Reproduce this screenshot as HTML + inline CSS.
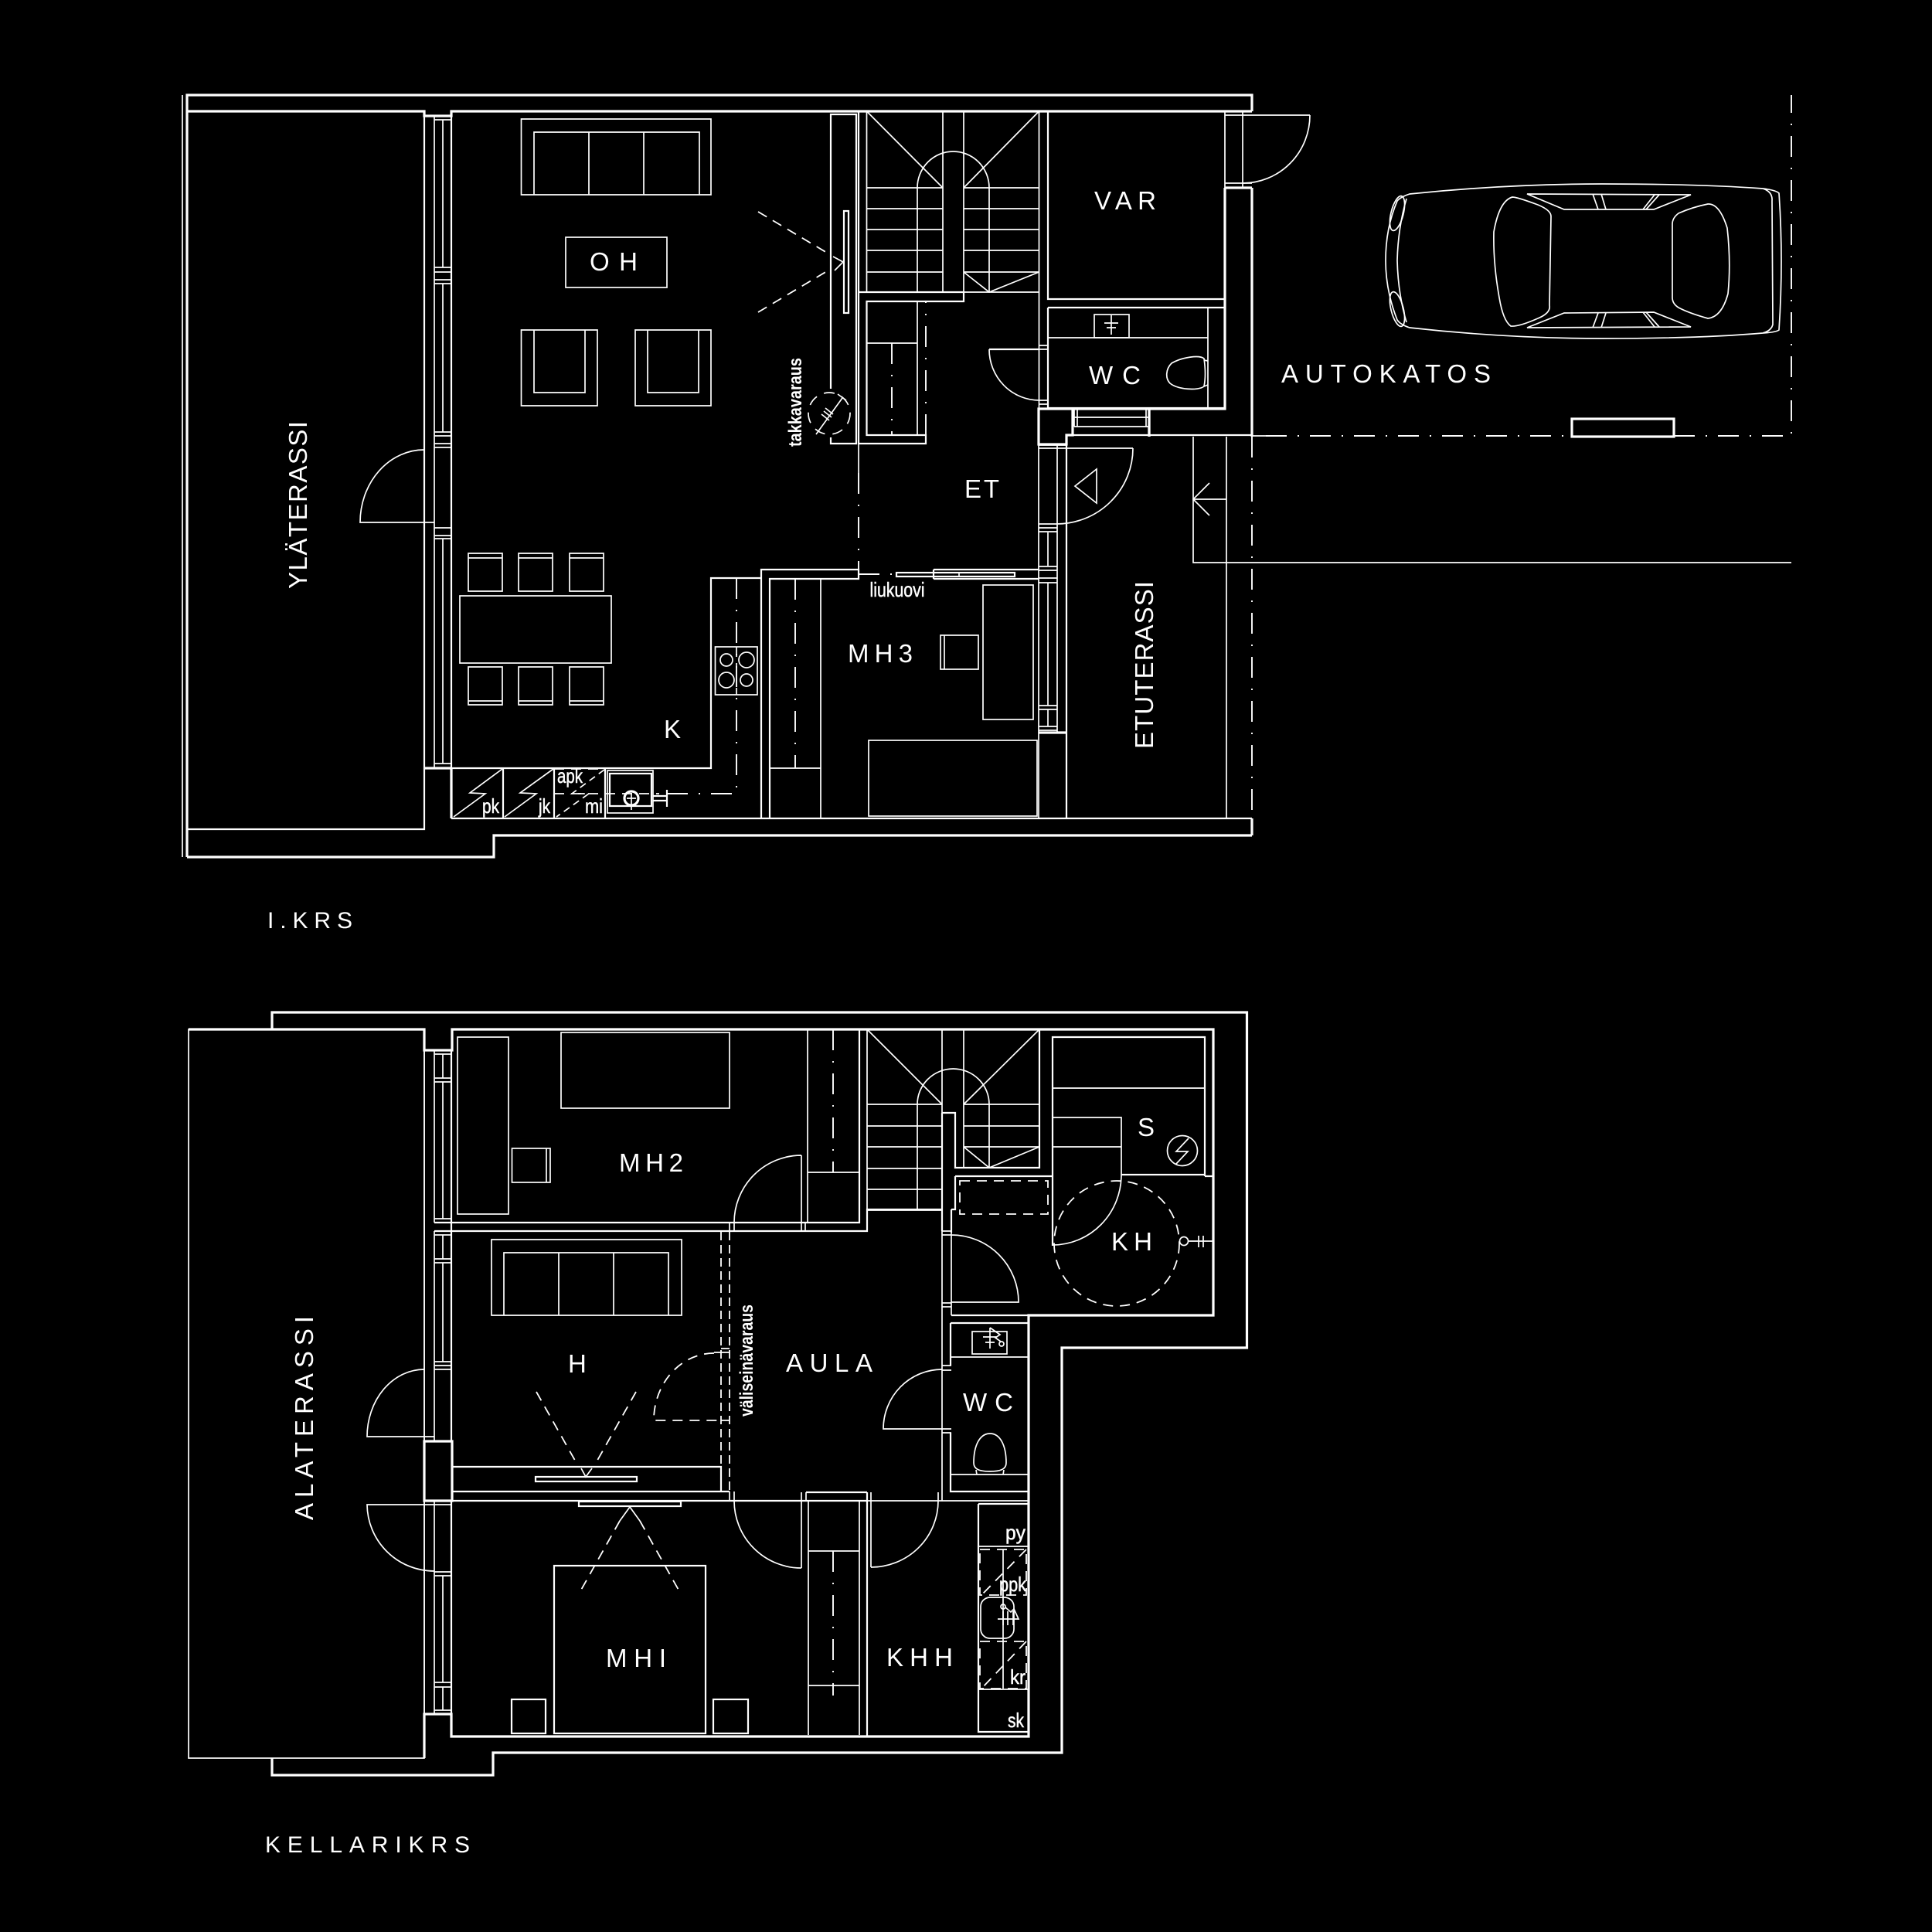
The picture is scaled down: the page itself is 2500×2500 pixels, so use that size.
<!DOCTYPE html>
<html><head><meta charset="utf-8"><style>
html,body{margin:0;padding:0;background:#000}
svg{display:block}
.t{stroke-width:1.7}.m{stroke-width:2.2}.k{stroke-width:3.2}
.dd{stroke-dasharray:27 14 2 14;stroke-width:1.9}
.d{stroke-dasharray:13 9;stroke-width:1.8}
.dl{stroke-dasharray:13 9;stroke-width:1.8}
.dv{stroke-dasharray:11 6;stroke-width:1.8}
text{fill:#fff;stroke:none;font-family:"Liberation Sans",sans-serif}
.c{font-size:33px}
.s{font-size:26px;stroke:#fff;stroke-width:.5px}
.r{font-size:24px;font-weight:bold}
</style></head><body>
<svg xmlns="http://www.w3.org/2000/svg" width="2500" height="2500" viewBox="0 0 2500 2500">
<rect width="2500" height="2500" fill="#000"/>
<g fill="none" stroke="#fff" class="t">

<!-- UPPER FLOOR: outer -->
<path class="k" d="M242,1109V123H1620V144M242,144H549V150H584V144H1620M242,1109H639V1081H1620"/>
<path class="t" d="M236,123V1109"/>
<path class="m" d="M242,1073H549V994H584M549,150V994M584,150V994"/>
<path class="t" d="M562,150V994M573,155V346M573,367V559M573,697V988"/>
<path class="t" d="M562,155H584M562,346H584M562,352H584M562,362H584M562,367H584M562,559H584M562,564H584M562,574H584M562,579H584M562,683H584M562,693H584M562,697H584M562,988H584"/>
<path class="k" d="M549,994H584"/>
<!-- yläterassi door -->
<path class="t" d="M549,582A83,94 0 0 0 466,676H562"/>
<!-- sofa & OH -->
<path d="M674.5,252V154H920V252ZM691,252V171H905V252M762,171V252M833,171V252"/>
<rect x="732" y="307" width="131" height="65"/>
<path d="M674.5,427H773V525H674.5ZM691,427V508H757V427M822,427H920V525H822ZM838,427V508H904V427"/>
<!-- dining -->
<rect x="595" y="771" width="196" height="87"/>
<path d="M606,716H650V765H606ZM606,722H650M671,716H715V765H671ZM671,722H715M737,716H781V765H737ZM737,722H781M606,863H650V912H606ZM606,907H650M671,863H715V912H671ZM671,907H715M737,863H781V912H737ZM737,907H781"/>
<!-- kitchen -->
<path class="m" d="M584,994H920V748H985M985,1059V737H1111V749H996V1059M584,1059H1620"/>
<path class="k" d="M584,994V1059"/>
<path class="dd" d="M953,748V1027H853"/>
<rect x="925.5" y="837" width="54.5" height="62"/>
<path d="M953,837V850M953,890V899M953,858V864"/>
<circle cx="940" cy="854" r="8"/><circle cx="966" cy="854" r="10"/><circle cx="940" cy="880" r="10"/><circle cx="966" cy="880" r="8"/>
<path class="m" d="M651,995V1059M717,995V1059M783,995V1059"/>
<path class="t" d="M650,995L608,1026L628,1027L587,1057M716,995L673,1026L694,1027L653,1057"/>
<path class="t" stroke-dasharray="9 6" d="M782,996L740,1027L762,1027L720,1057"/>
<path class="d" d="M717,995H783M717,1027H853M717,995V1059"/>
<rect x="786" y="997" width="59" height="55"/><rect x="789" y="1001" width="54" height="42" class="m"/>
<circle cx="817" cy="1033" r="9" class="k"/>
<path class="m" d="M845,1030H863M845,1036H863M863,1022V1044"/>
<path d="M811,1033H823M817,1026V1048"/>
<text class="s" x="624" y="1052" textLength="22" lengthAdjust="spacingAndGlyphs">pk</text>
<text class="s" x="697" y="1052" textLength="15" lengthAdjust="spacingAndGlyphs">jk</text>
<text class="s" x="721" y="1013" textLength="33" lengthAdjust="spacingAndGlyphs">apk</text>
<text class="s" x="757" y="1052" textLength="23" lengthAdjust="spacingAndGlyphs">mi</text>

<!-- fireplace panel -->
<path class="m" d="M1075,503V148H1108V574H1075V566"/>
<rect x="1092" y="273" width="6" height="132" class="m"/>
<path class="dl" d="M981,274L1075,330M981,404L1075,348"/>
<path d="M1078,332L1091,339L1080,350"/>
<circle cx="1073" cy="535" r="27" stroke-dasharray="14 10"/>
<path d="M1090,515L1056,562M1084,510L1095,518M1068,528L1078,536M1066,532L1076,540M1063,536L1073,544"/>
<text class="r" transform="translate(1037,578) rotate(-90)" textLength="115" lengthAdjust="spacingAndGlyphs">takkavaraus</text>

<!-- stairs upper -->
<path class="m" d="M1111,144V378H1247V390H1121.5V563H1198V574H1111V378"/>
<path class="dd" d="M1198,563V390"/>
<path class="dd" d="M1111,612V737"/>
<path class="t" d="M1111,574V612"/>
<path d="M1121.5,144V378M1187,243V378M1220,144V378M1247,144V378M1280,243V378M1344.5,144V378"/>
<path d="M1121.5,243H1220M1247,243H1344.5M1121.5,270H1220M1247,270H1344.5M1121.5,297H1220M1247,297H1344.5M1121.5,324H1220M1247,324H1344.5M1121.5,352H1220M1247,352H1344.5M1247,378H1344.5"/>
<path d="M1187,243A46.5,47 0 0 1 1280,243"/>
<path d="M1121.5,144L1220,243M1344.5,144L1247,243M1247,352L1280,378L1344.5,352"/>
<!-- closet at stairs -->
<path d="M1187,390V563M1121.5,444H1187"/>
<path class="dd" d="M1154,444V563"/>

<!-- VAR, WC -->
<path class="m" d="M1356,144V387H1585M1356,398H1585M1356,398V528H1585"/>
<path class="k" d="M1585,243V529H1487V565M1620,243V565M1585,243H1620"/>
<path class="t" d="M1344.5,378V530M1563,398V529M1356,437H1563"/>
<rect x="1416" y="407" width="45" height="30"/>
<path d="M1438,408V433M1429,418H1447M1432,424H1444"/>
<path d="M1558,464C1552,459 1530,462 1516,470C1508,478 1508,490 1514,496C1524,504 1550,506 1558,500C1560,490 1560,478 1558,464ZM1558,466L1563,467M1558,500L1563,498"/>
<path d="M1345,447H1356M1345,452H1356M1345,518H1356M1345,523H1356"/>
<path class="m" d="M1345,452H1280"/>
<path d="M1280,452A65,66 0 0 0 1345,518"/>
<!-- outer door -->
<path d="M1585,144V243M1608,144V243M1585,149H1695M1585,237H1620"/>
<path d="M1695,149A87,88 0 0 1 1608,237"/>
<!-- entry box -->
<path class="k" d="M1344,529H1388V563H1380V575H1344ZM1388,529H1487V565"/>
<path class="m" d="M1388,563H1620"/>
<path class="t" d="M1390,529V552M1394,529V552M1483,529V552M1390,540H1487M1390,552H1487"/>
<path class="t" d="M1620,564H1638"/>
<path class="dd" d="M1620,565V1059"/>
<path class="k" d="M1620,1059V1081"/>
<path class="dd" d="M1638,564H2034M2166,564H2318V123"/>
<rect x="2034" y="542" width="132" height="23" class="k"/>
<!-- door front -->
<path class="m" d="M1380,575V1059"/>
<path d="M1344,575V1059M1368,575V948M1344,576H1380M1344,580H1466M1466,580A99,98 0 0 1 1367,678M1344,678H1368M1344,683H1368M1344,688H1368M1356,689V732M1344,733H1368M1344,738H1368M1344,748H1368M1344,754H1368M1356,754V913M1344,913H1368M1344,918H1368M1356,918V940M1344,940H1368M1344,945H1368"/>
<path class="k" d="M1344,948H1380"/>
<path d="M1391,629L1419,607V651Z"/>
<!-- carport lines -->
<path d="M1587,565V1059M1544,565V728H2318M1544,646H1587M1565,625L1544,646L1565,667"/>
<!-- sliding door -->
<path class="m" d="M1208,737H1344M1208,749H1344M1208,737V749"/>
<rect x="1160" y="741" width="153" height="5" class="m"/>
<path d="M1241,741V746"/>
<path class="dd" d="M1111,743H1160"/>
<text class="s" x="1125.5" y="772" textLength="71" lengthAdjust="spacingAndGlyphs">liukuovi</text>
<!-- MH3 furniture -->
<rect x="1272" y="757" width="65" height="174"/>
<rect x="1217" y="822" width="49" height="44"/><path d="M1222,822V866"/>
<rect x="1124" y="958" width="218" height="98"/>
<path d="M1062,749V1059M996,994H1062"/>
<path class="dd" d="M1029,749V994"/>

<!-- car -->
<path d="M1824,251Q1950,238 2073,238Q2200,238 2281,244Q2298,246 2302,250Q2308,337 2302,427Q2298,430 2281,431Q2200,438 2073,438Q1950,438 1824,424Q1812,420 1808,414Q1793,376 1793,337Q1793,295 1808,260Q1812,255 1824,251ZM1820,257Q1809,295 1808,337Q1809,380 1820,417M2281,244Q2294,248 2293,260L2294,420Q2292,428 2281,431"/>
<ellipse cx="1808" cy="276" rx="8" ry="23" transform="rotate(14 1808 276)"/>
<ellipse cx="1808" cy="400" rx="8" ry="23" transform="rotate(-14 1808 400)"/>
<path d="M1957,255Q1963,255 1990,265Q2007,272 2007,280L2005,395Q2007,405 1990,412Q1965,423 1955,422Q1945,415 1940,385Q1932,340 1933,300Q1940,260 1957,255ZM2210,264Q2225,263 2235,295Q2240,340 2236,380Q2228,410 2210,412Q2185,405 2172,398Q2164,393 2164,385L2164,290Q2164,282 2172,276Q2190,268 2210,264Z"/>
<path d="M1976,251L2188,252L2140,271H2024ZM1976,424L2188,423L2140,404L2024,405Z"/>
<path d="M2061,251L2068,271M2072,251L2078,271M2141,252L2126,271M2147,252L2130,271M2068,405L2061,424M2078,405L2072,424M2126,404L2141,423M2130,404L2147,423"/>

<!-- LOWER FLOOR outer -->
<path class="k" d="M352,1331V1310H1613.5V1744H1374V2268H638V2297H352V2275"/>
<rect x="244" y="1332" width="305" height="943"/>
<path class="k" d="M549,2275V2218H584V2247H1331V1702H1570V1332H585V1359H549V1332H244"/>
<path class="k" d="M549,1865H585V1942H549Z"/>
<path class="m" d="M584,1359V1865M584,1942V2218"/>
<path class="t" d="M549,1359V1865M549,1942V2218M562,1360V1582M562,1593V1865M562,1942V2218"/>
<path class="t" d="M573,1364V1395M573,1400V1577M573,1598V1629M573,1634V1762M573,2039V2177M573,2183V2213"/>
<path class="t" d="M562,1364H584M562,1395H584M562,1400H584M562,1577H584M562,1598H584M562,1629H584M562,1634H584M562,1762H584M562,1767H584M562,1772H584M562,2034H584M562,2039H584M562,2177H584M562,2183H584M562,2213H584"/>
<path d="M549,1772A74,87 0 0 0 475,1859H562M549,1947H475A87,87 0 0 0 562,2033M549,1947H584"/>
<!-- MH2 -->
<rect x="592" y="1342" width="66" height="229"/>
<rect x="662.5" y="1486" width="49.5" height="44"/><path d="M707,1486V1530"/>
<rect x="726" y="1336" width="218" height="98"/>
<path class="m" d="M562,1582H1112V1332M562,1593H1122V1565H1219"/>
<path d="M1045,1332V1582M1045,1517H1112M1037,1495V1593M1042,1582V1593M944,1582V1593M950,1582V1593M1037,1495A87,87 0 0 0 950,1582"/>
<path class="dd" d="M1078,1332V1517"/>
<!-- H room -->
<path d="M636,1702V1604H882V1702ZM652,1702V1621H865V1702M723,1621V1702M794,1621V1702"/>
<path class="m" d="M585,1898H933V1930M585,1930H944M585,1942H1122"/>
<rect x="693" y="1911" width="131" height="6" class="m"/>
<path class="dl" d="M694,1801L747,1895M823,1801L770,1895"/>
<path d="M752,1900L758,1911L766,1900"/>
<path class="dv" d="M933,1594V1930M944,1594V1930"/>
<path d="M933,1745H944M933,1750H944M944,1750H924M933,1838H944"/>
<path class="d" d="M924,1751A78,87 0 0 0 846,1835V1838H930"/>
<rect x="749" y="1943" width="132" height="6" class="m"/>
<path d="M802,1968L815,1950L828,1968"/>
<path class="dl" d="M802,1968L751,2059M828,1968L879,2059"/>
<rect x="717" y="2026" width="196" height="217" class="m"/>
<rect x="662" y="2199" width="44" height="44" class="m"/>
<rect x="923" y="2199" width="45" height="44" class="m"/>
<text class="r" transform="translate(974,1833) rotate(-90)" textLength="145" lengthAdjust="spacingAndGlyphs">väliseinävaraus</text>
<!-- mid doors -->
<path d="M944,1930V1942M950,1930V1942M1037,1931V2029M1043,1931V1942M950,1942A87,87 0 0 0 1037,2029"/>
<path class="m" d="M1122,1931V2246M1043,1931H1122"/>
<path d="M1046,1942V2245M1112,1942V2245M1046,1942H1112M1046,2007H1112M1046,2181H1112M1127,1931V2028M1127,2028A87,86 0 0 0 1214,1942M1214,1931V1942M1122,1942H1331"/>
<path class="dd" d="M1078,2007V2194"/>
<!-- stairs lower -->
<path d="M1122,1332V1566H1219M1187,1429V1566M1219,1332V1440M1247,1332V1511M1280,1429V1511M1345,1332V1511"/>
<path class="m" d="M1219,1440H1236V1511H1345V1332"/>
<path d="M1122,1429H1219M1247,1429H1345M1122,1457H1219M1247,1457H1345M1122,1484H1219M1247,1484H1345M1122,1512H1219M1122,1539H1219"/>
<path d="M1187,1429A46.5,46 0 0 1 1280,1429"/>
<path d="M1122,1332L1219,1429M1345,1332L1247,1429M1247,1484L1280,1511L1345,1484"/>
<path class="m" d="M1219,1440V1593M1231,1565V1595M1236,1522H1362M1236,1522V1565H1231"/>
<path class="d" d="M1242,1528H1356V1571H1242Z"/>
<!-- sauna -->
<path class="m" d="M1362,1612V1342H1559V1522M1451,1520H1559M1559,1522H1570"/>
<path d="M1362,1408H1559M1362,1446H1451V1520M1362,1484H1451"/>
<path d="M1451,1520A89,91 0 0 1 1362,1611"/>
<circle cx="1530" cy="1489" r="19.5"/>
<path d="M1538,1473L1522,1490H1537L1522,1506"/>
<circle cx="1445" cy="1609" r="81" class="d"/>
<circle cx="1532" cy="1606" r="5.5"/>
<path d="M1537.5,1606H1569M1551,1599V1614M1557,1599V1614"/>
<!-- KH door -->
<path d="M1219,1593V1942M1231,1595V1702M1219,1593H1231M1219,1598H1231M1219,1686H1231M1219,1691H1231M1231,1598A87,87 0 0 1 1318,1685H1231"/>
<path class="m" d="M1231,1702H1570"/>
<!-- WC lower -->
<path class="m" d="M1230,1712H1330M1230,1712V1767M1230,1854V1930H1330"/>
<path d="M1230,1756H1330M1219,1767H1231M1219,1773H1231M1219,1849H1231M1219,1854H1231M1219,1772A76,77 0 0 0 1143,1849H1219M1230,1908H1330"/>
<rect x="1258" y="1723" width="45" height="29"/>
<path d="M1281,1718V1745M1272,1730H1290M1275,1737H1287M1281,1718L1294,1727L1288,1731L1295,1736"/>
<circle cx="1296" cy="1739" r="3"/>
<path d="M1260,1893C1260,1870 1268,1855 1281,1855C1294,1855 1302,1870 1302,1893C1302,1901 1295,1904 1281,1904C1267,1904 1260,1901 1260,1893ZM1263,1902L1264,1908M1299,1902L1298,1908"/>
<!-- storage -->
<path class="m" d="M1266,1946V2241H1331M1266,1946H1331"/>
<path d="M1266,2001H1331M1266,2186H1331M1298,2005V2185"/>
<rect x="1269" y="2067" width="43" height="53" rx="12"/>
<path class="d" d="M1268,2005H1328V2064H1268ZM1268,2124H1328V2185H1268Z"/>
<path class="d" d="M1328,2005L1270,2064M1328,2124L1270,2185"/>
<circle cx="1298" cy="2079" r="3"/>
<path d="M1301,2080L1308,2086L1312,2082L1318,2095H1291M1298,2085V2103M1304,2085V2103M1311,2085V2103"/>
</g>

<!-- labels -->
<g>
<text class="c" x="763" y="350" textLength="62">OH</text>
<text class="c" x="1416" y="271" textLength="80">VAR</text>
<text class="c" x="1409" y="497" textLength="67">WC</text>
<text class="c" x="1248" y="644" textLength="45">ET</text>
<text class="c" x="1097" y="857" textLength="84">MH3</text>
<text class="c" x="859" y="955">K</text>
<text class="c" x="1658" y="495" textLength="271">AUTOKATOS</text>
<text class="c" x="801" y="1516" textLength="83">MH2</text>
<text class="c" x="735" y="1776">H</text>
<text class="c" x="1017" y="1775" textLength="112">AULA</text>
<text class="c" x="1246" y="1826" textLength="65">WC</text>
<text class="c" x="1438" y="1618" textLength="53">KH</text>
<text class="c" x="1472" y="1470" font-size="30">S</text>
<text class="c" x="784" y="2157" textLength="78">MHI</text>
<text class="c" x="1147" y="2156" textLength="86">KHH</text>
<text class="c" transform="translate(397,762) rotate(-90)" textLength="217">YLÄTERASSI</text>
<text class="c" transform="translate(1492,969) rotate(-90)" textLength="217">ETUTERASSI</text>
<text class="c" transform="translate(405,1967) rotate(-90)" textLength="264">ALATERASSI</text>
<text x="346" y="1201" font-size="30" textLength="110">I.KRS</text>
<text x="343" y="2397" font-size="30" textLength="265">KELLARIKRS</text>
<text class="s" x="1301" y="1992" textLength="26" lengthAdjust="spacingAndGlyphs">py</text>
<text class="s" x="1293" y="2059" textLength="35" lengthAdjust="spacingAndGlyphs">ppk</text>
<text class="s" x="1307" y="2179" textLength="20" lengthAdjust="spacingAndGlyphs">kr</text>
<text class="s" x="1304" y="2235" textLength="21" lengthAdjust="spacingAndGlyphs">sk</text>
</g>
</svg>
</body></html>
